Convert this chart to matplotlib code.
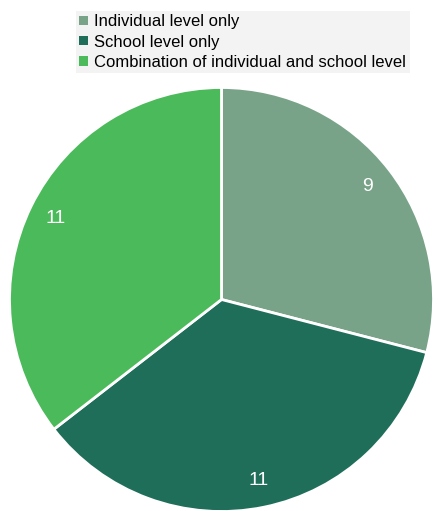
import matplotlib
matplotlib.use("Agg")
from matplotlib import pyplot as plt
from matplotlib.patches import Patch

categories = ["Individual level only", "School level only",
              "Combination of individual and school level"]
values = [9, 11, 11]
colors = ["#79a388", "#1f6e5a", "#4bba5a"]

plt.rcParams["font.family"] = ["Liberation Sans Narrow", "Liberation Sans", "DejaVu Sans"]

fig = plt.figure(figsize=(4.39, 5.11), dpi=100)
# pie centred near (221, 300) px with radius ~212 px
ax = fig.add_axes([9.5 / 439, -0.5 / 511, 424 / 439, 424 / 511])

wedges, texts, autotexts = ax.pie(
    values, colors=colors, startangle=90, counterclock=False,
    autopct=lambda p: f"{p * sum(values) / 100:.0f}", pctdistance=0.87,
    wedgeprops=dict(edgecolor="white", linewidth=2),
    textprops=dict(color="white", fontsize=14),
)
ax.set_xlim(-1, 1)
ax.set_ylim(-1, 1)
ax.set_aspect("equal")
ax.axis("off")

handles = [Patch(facecolor=c, edgecolor="none") for c in colors]
leg = fig.legend(handles, categories, loc="upper left",
                 bbox_to_anchor=(76 / 439, 1 - 11 / 511),
                 fontsize=12, frameon=True, fancybox=False,
                 handlelength=0.5, handleheight=0.5, handletextpad=0.4,
                 labelspacing=0.32, borderpad=0.2, borderaxespad=0)
leg.get_frame().set_facecolor("#f0f0f0")
leg.get_frame().set_edgecolor("none")

fig.savefig("out.png", dpi=100)
